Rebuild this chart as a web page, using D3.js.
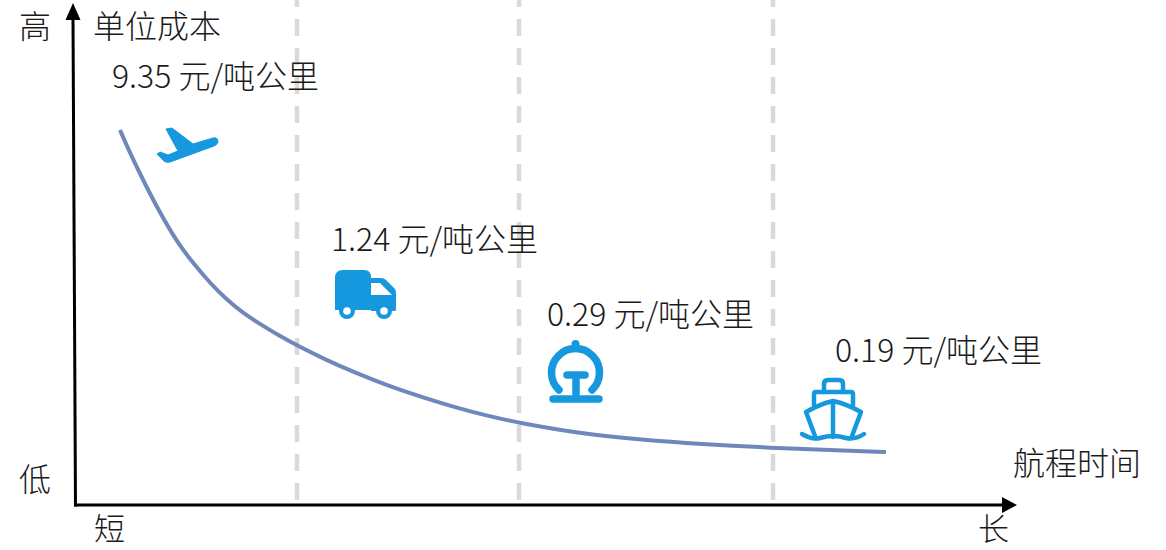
<!DOCTYPE html>
<html lang="zh">
<head>
<meta charset="utf-8">
<script src="https://cdn.jsdelivr.net/npm/d3@7/dist/d3.min.js"></script>
<style>
  html, body { margin: 0; padding: 0; background: #fff; }
  svg { display: block; }
  text { font-family: "Noto Sans CJK SC", "Noto Sans", sans-serif; font-weight: 300; fill: #1a1a1a; }
</style>
</head>
<body>
<div id="chart"></div>
<script>
// Freight cost per tonne-km against voyage time (schematic curve)
const curveTime = [44, 54, 67, 84, 101, 117, 134, 151, 167, 184, 201, 221, 247, 281, 314, 347, 381, 414, 444, 481, 514, 564, 624, 697, 754, 810];
const curveCost = [375, 352, 325, 292, 263, 242, 222, 205, 192, 181, 170.5, 159.5, 146.5, 131.5, 118.5, 107.5, 97, 88.5, 82, 75.5, 70.5, 65.5, 61, 57, 55, 53];
const dividerTimes = [221, 443, 697];
const modeNames = ["plane", "truck", "rail", "ship"];
const modeCosts = ["9.35", "1.24", "0.29", "0.19"];
const costUnit = " 元/吨公里";
const xTickLabels = ["短", "长"];
const xTickValues = [33, 917];
const yTickLabels = ["低", "高"];
const yTickValues = [25, 478];

const width = 1166, height = 550;
const blue = "#1598de";
const x = d3.scaleLinear().domain([0, 941]).range([76, 1017]);
const y = d3.scaleLinear().domain([0, 502]).range([505, 3]);

const svg = d3.select("#chart").append("svg")
  .attr("width", width).attr("height", height).attr("viewBox", [0, 0, width, height]);

// Vertical dashed separators between transport modes
svg.append("g").selectAll("line").data(dividerTimes).join("line")
  .attr("x1", d => x(d)).attr("x2", d => x(d))
  .attr("y1", 500).attr("y2", -11)
  .attr("stroke", "#d9d9d9").attr("stroke-width", 4.5)
  .attr("stroke-dasharray", "17 12");

// Axis tick labels
const xAxis = d3.axisBottom(x).tickValues(xTickValues)
  .tickFormat((d, i) => xTickLabels[i]).tickSize(0).tickPadding(13);
const yAxis = d3.axisLeft(y).tickValues(yTickValues)
  .tickFormat((d, i) => yTickLabels[i]).tickSize(0).tickPadding(25);
const gx = svg.append("g").attr("transform", "translate(0,505)").call(xAxis);
const gy = svg.append("g").attr("transform", "translate(76,0)").call(yAxis);
gx.select(".domain").remove();
gy.select(".domain").remove();
gy.selectAll(".tick text").style("font-size", "32px").style("font-family", null).attr("fill", null);
gx.selectAll(".tick text").style("font-size", "31px").style("font-family", null).attr("fill", null);

// Axis lines with arrowheads
const ax = svg.append("g").attr("stroke", "#000").attr("stroke-width", 3).attr("fill", "none");
ax.append("path").attr("d", d3.line()([[x(-0.5), y(0) + 1.5], [x(-3), y(487)]]));
ax.append("path").attr("d", d3.line()([[x(-0.5) - 1.5, y(0)], [x(927), y(0)]]));
svg.append("path").attr("d", d3.line()([[x(-3), y(502)], [x(-3) - 7.5, y(485)], [x(-3) + 7.5, y(485)]]) + "Z").attr("fill", "#000");
svg.append("path").attr("d", d3.line()([[x(941), y(0)], [x(926), y(8)], [x(926), y(-8)]]) + "Z").attr("fill", "#000");

// Cost curve
svg.append("path")
  .datum(curveTime.map((t, i) => [t, curveCost[i]]))
  .attr("fill", "none").attr("stroke", "#6f88bb").attr("stroke-width", 4)
  .attr("d", d3.line().x(d => x(d[0])).y(d => y(d[1])).curve(d3.curveBasis));

// Axis titles
svg.append("text").attr("x", 93).attr("y", 38).style("font-size", "32px").text("单位成本");
svg.append("text").attr("x", 1013).attr("y", 475).style("font-size", "32px").text("航程时间");

// Cost labels, one per transport mode
const labelLayout = { plane: [112, 88], truck: [331, 251], rail: [547, 326], ship: [835, 362] };
svg.append("g").selectAll("text").data(modeNames).join("text")
  .attr("x", d => labelLayout[d][0]).attr("y", d => labelLayout[d][1])
  .style("font-size", "32px").style("white-space", "pre")
  .text((d, i) => modeCosts[i] + costUnit);

// Transport icons
const icons = svg.append("g");

icons.append("path").attr("fill", blue).attr("stroke", blue).attr("stroke-width", 1).attr("stroke-linejoin", "round")
  .attr("d", "M166,129L172,128L193,144L213,138Q218,137 218,142Q217,145 214,146L170,162Q166,163 164,161L157,154L160,152L168,155L178,151Z");

const truck = icons.append("g").attr("fill", blue);
truck.append("path").attr("d", "M343,270H364Q371,270 371,277V310H335V278Q335,270 343,270Z");
truck.append("path").attr("d", "M371,278H381Q384,278 386,280L395,289Q396,291 396,293V310Q396,311 394,311H371Z");
truck.append("path").attr("d", "M371,283H380L392,295H371Z").attr("fill", "#fff");
[347, 384].forEach(cx => {
  truck.append("circle").attr("cx", cx).attr("cy", 311).attr("r", 8).attr("fill", blue);
  truck.append("circle").attr("cx", cx).attr("cy", 311).attr("r", 3.8).attr("fill", "#fff");
});

const rail = icons.append("g").attr("fill", "none").attr("stroke", blue).attr("stroke-width", 7.5).attr("stroke-linecap", "round");
rail.append("path").attr("d", "M559,390A24,24 0 1 1 592,390");
rail.append("path").attr("d", "M567,375H585M576,375V398");
rail.append("path").attr("d", "M553,399H599");
icons.append("circle").attr("cx", 575.5).attr("cy", 344).attr("r", 4).attr("fill", blue);

const ship = icons.append("g").attr("fill", "none").attr("stroke", blue).attr("stroke-width", 4.5).attr("stroke-linejoin", "round").attr("stroke-linecap", "round");
ship.append("path").attr("d", "M824,392V384Q824,380 828,380H839Q843,380 843,384V392");
ship.append("path").attr("d", "M814,405V394Q814,392 816,392H851Q853,392 853,394V405");
ship.append("path").attr("d", "M806,412Q820,404 833,401Q847,404 861,412L852,436M806,412L815,436M833,401V437");
ship.append("path").attr("d", "M802,434Q812,440 820,438Q833,434 846,438Q855,440 864,434");
</script>
</body>
</html>
